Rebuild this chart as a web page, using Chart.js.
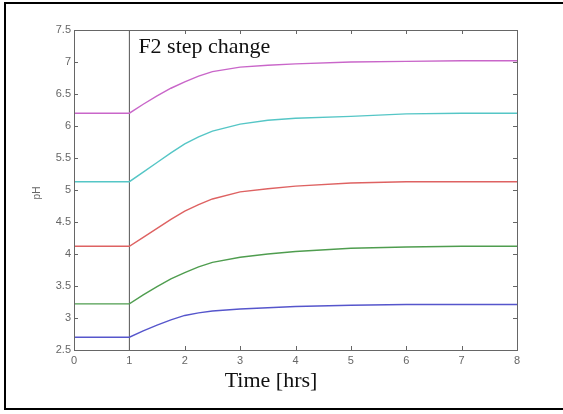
<!DOCTYPE html>
<html>
<head>
<meta charset="utf-8">
<title>pH response to F2 step change</title>
<script src="https://cdn.jsdelivr.net/npm/chart.js@4/dist/chart.umd.min.js"></script>
<style>
  html, body { margin: 0; padding: 0; background: #fff; }
  #wrap { position: relative; width: 563px; height: 414px; }
</style>
</head>
<body>
<div id="wrap"><canvas id="phChart"></canvas></div>
<script>
// ---- data ----
const times     = [0,    1,    1.25, 1.5,  1.75, 2,    2.25, 2.5,  3,    3.5,  4,    5,    6,    7,    8];
const phMagenta = [6.20, 6.20, 6.34, 6.47, 6.59, 6.69, 6.78, 6.85, 6.92, 6.95, 6.97, 7.00, 7.01, 7.02, 7.02];
const phCyan    = [5.13, 5.13, 5.28, 5.43, 5.58, 5.72, 5.83, 5.92, 6.03, 6.09, 6.12, 6.15, 6.19, 6.20, 6.20];
const phRed     = [4.12, 4.12, 4.26, 4.40, 4.54, 4.67, 4.77, 4.86, 4.97, 5.02, 5.06, 5.11, 5.13, 5.13, 5.13];
const phGreen   = [3.22, 3.22, 3.36, 3.49, 3.61, 3.71, 3.80, 3.87, 3.95, 4.00, 4.04, 4.09, 4.11, 4.12, 4.12];
const phBlue    = [2.70, 2.70, 2.80, 2.89, 2.97, 3.04, 3.08, 3.11, 3.14, 3.16, 3.18, 3.20, 3.21, 3.21, 3.21];
const stepTime = 1;
const xRange = [0, 8];
const yRange = [2.5, 7.5];

const stepLabel = "F2 step change";
const xTitle = "Time [hrs]";
const yTitle = "pH";

// pair times with values
function toPoints(values) {
  return times.map((t, i) => ({ x: t, y: values[i] }));
}

function lineSet(values, color) {
  return {
    data: toPoints(values),
    borderColor: color,
    borderWidth: 1.4,
    pointRadius: 0,
    fill: false,
    tension: 0
  };
}

// frame, axes box, inward ticks and text labels
const decor = {
  id: "decor",
  beforeDraw(chart) {
    const c = chart.ctx;
    c.save();
    c.fillStyle = "#fff";
    c.fillRect(0, 0, chart.width, chart.height);
    c.strokeStyle = "#000";
    c.lineWidth = 2;
    c.beginPath();
    c.moveTo(chart.width + 5, 3);
    c.lineTo(5, 3);
    c.lineTo(5, 409);
    c.lineTo(chart.width + 5, 409);
    c.stroke();
    c.restore();
  },
  afterDraw(chart) {
    const c = chart.ctx;
    const a = chart.chartArea;
    const xs = chart.scales.x, ys = chart.scales.y;
    c.save();
    c.strokeStyle = "#666";
    c.lineWidth = 1;
    c.strokeRect(Math.round(a.left) + 0.5, Math.round(a.top) + 0.5,
                 Math.round(a.right - a.left), Math.round(a.bottom - a.top));
    c.beginPath();
    xs.ticks.forEach(t => {
      const px = Math.round(xs.getPixelForValue(t.value)) + 0.5;
      c.moveTo(px, a.bottom); c.lineTo(px, a.bottom - 4);
      c.moveTo(px, a.top); c.lineTo(px, a.top + 4);
    });
    ys.ticks.forEach(t => {
      const py = Math.round(ys.getPixelForValue(t.value)) + 0.5;
      c.moveTo(a.left, py); c.lineTo(a.left + 4, py);
      c.moveTo(a.right, py); c.lineTo(a.right - 4, py);
    });
    c.stroke();

    c.fillStyle = "#111";
    c.font = "22px 'Liberation Serif', serif";
    c.textAlign = "left";
    c.textBaseline = "alphabetic";
    c.fillText(stepLabel, xs.getPixelForValue(stepTime) + 9, 53);
    c.textAlign = "center";
    c.fillText(xTitle, 271, 387);

    c.fillStyle = "#666";
    c.font = "10px 'Liberation Sans', sans-serif";
    c.translate(37, 193);
    c.rotate(-Math.PI / 2);
    c.textBaseline = "middle";
    c.fillText(yTitle, 0, 0);
    c.restore();
  }
};

new Chart(document.getElementById("phChart"), {
  type: "line",
  data: {
    datasets: [
      lineSet(phMagenta, "#c966c9"),
      lineSet(phCyan, "#55c6c6"),
      lineSet(phRed, "#de6262"),
      lineSet(phGreen, "#4f9d4f"),
      lineSet(phBlue, "#5656cc"),
      {
        // vertical marker at the step time
        data: [{ x: stepTime, y: yRange[0] }, { x: stepTime, y: yRange[1] }],
        borderColor: "#555",
        borderWidth: 1,
        pointRadius: 0,
        fill: false
      }
    ]
  },
  options: {
    responsive: true,
    maintainAspectRatio: false,
    animation: false,
    layout: { padding: { top: 30, right: 46, left: 0, bottom: 0 } },
    plugins: {
      legend: { display: false },
      tooltip: { enabled: false }
    },
    scales: {
      x: {
        type: "linear",
        min: xRange[0],
        max: xRange[1],
        grid: { display: false, drawTicks: false },
        border: { display: false },
        ticks: {
          stepSize: 1,
          padding: 4,
          color: "#666",
          font: { family: "'Liberation Sans', sans-serif", size: 11 },
          maxRotation: 0
        },
        afterFit(scale) { scale.height = 64; }
      },
      y: {
        type: "linear",
        min: yRange[0],
        max: yRange[1],
        grid: { display: false, drawTicks: false },
        border: { display: false },
        ticks: {
          stepSize: 0.5,
          padding: 3,
          color: "#666",
          font: { family: "'Liberation Sans', sans-serif", size: 11 },
          callback: v => String(Number(v.toFixed(1)))
        },
        afterFit(scale) { scale.width = 74; }
      }
    }
  },
  plugins: [decor]
});
</script>
</body>
</html>
